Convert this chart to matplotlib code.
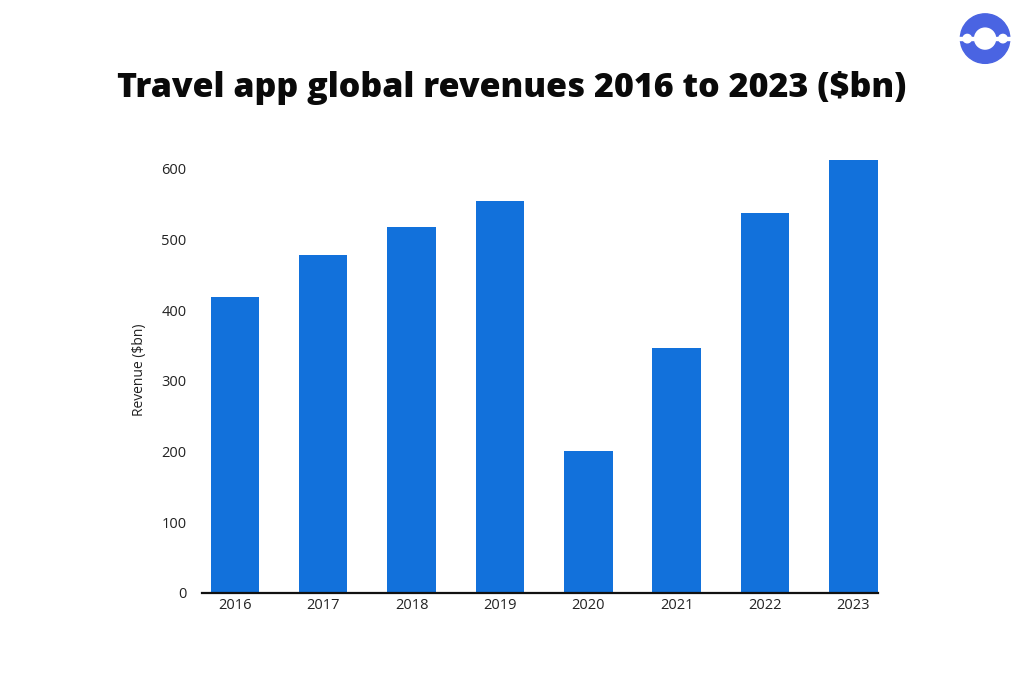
import matplotlib.pyplot as plt
from matplotlib.patches import Circle, Rectangle, Wedge

years = ['2016', '2017', '2018', '2019', '2020', '2021', '2022', '2023']
revenue = [418, 478, 518, 555, 200, 346, 538, 613]
yticks = [0, 100, 200, 300, 400, 500, 600]

plt.rcParams['font.family'] = ['Open Sans', 'DejaVu Sans']

fig = plt.figure(figsize=(10.24, 6.83), dpi=100)
ax = fig.add_axes([0.197, 0.132, 0.660, 0.652])

ax.bar(range(len(years)), revenue, width=0.55, color='#1271DB')
ax.set_xlim(-0.375, len(years) - 1 + 0.275)
ax.set_ylim(0, 630)
ax.set_xticks(range(len(years)))
ax.set_xticklabels(years)
ax.set_yticks(yticks)
ax.tick_params(axis='both', length=0, labelsize=10.5, colors='#222222')
ax.tick_params(axis='y', pad=11)
ax.tick_params(axis='x', pad=4)
for s in ['top', 'right', 'left']:
    ax.spines[s].set_visible(False)
ax.spines['bottom'].set_linewidth(1.6)
ax.spines['bottom'].set_color('#111111')
ax.set_ylabel('Revenue ($bn)', fontsize=10, color='#222222', labelpad=10)

fig.text(0.5, 0.871, 'Travel app global revenues 2016 to 2023 ($bn)',
         ha='center', va='center', fontsize=24.5, fontweight='heavy',
         color='#0a0a0a')

# logo top right
logo = fig.add_axes([0.933, 0.90, 0.058, 0.087])
logo.set_xlim(-1.2, 1.2)
logo.set_ylim(-1.2, 1.2)
logo.set_aspect('equal')
logo.axis('off')
blue = '#4A64E2'
logo.add_patch(Wedge((0, 0), 1.0, 0, 360, width=0.52, color=blue))
logo.add_patch(Rectangle((-1.1, -0.07), 2.2, 0.14, color='white'))
for cx in (-0.72, 0.72):
    logo.add_patch(Circle((cx, 0), 0.17, color='white'))

fig.savefig('out.png', dpi=100, facecolor='white')
